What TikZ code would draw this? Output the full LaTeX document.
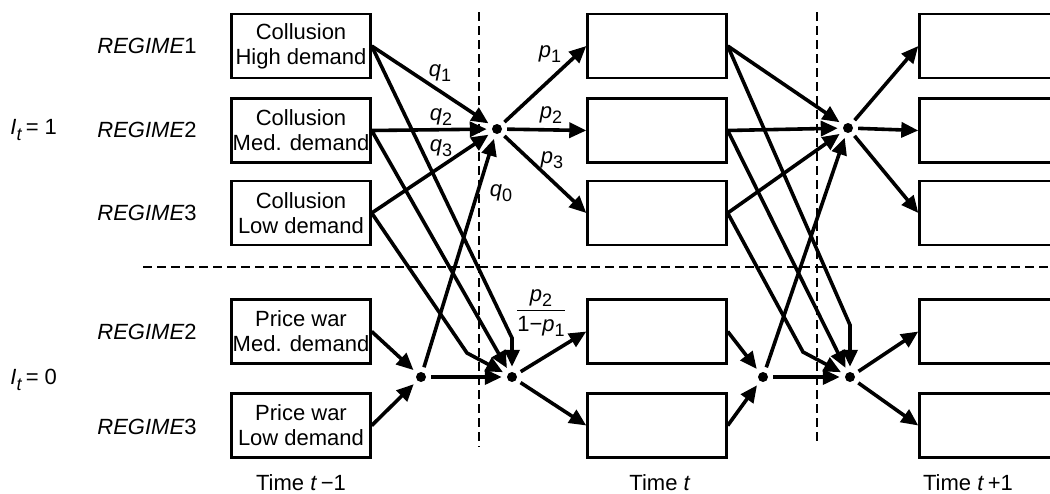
\documentclass[tikz,border=0pt]{standalone}
\usepackage{fontspec}
\setmainfont{Liberation Sans}
\usetikzlibrary{arrows.meta}
\newcommand{\mysub}[1]{\raisebox{-0.45ex}{\fontsize{9}{10}\selectfont #1}}
\begin{document}
\begin{tikzpicture}[x=0.5pt,y=-0.5pt,
  box/.style={draw,line width=1.2pt,minimum width=69.5pt,minimum height=32pt,inner sep=0pt,align=center,font=\fontsize{11}{12.5}\selectfont},
  jn/.style={circle,fill,inner sep=0pt,minimum size=5pt,outer sep=2.6pt},
  arr/.style={line width=1.8pt,-{Triangle[length=8.5pt,width=7.5pt]}},
  dsh/.style={line width=0.9pt,dash pattern=on 4.5pt off 2.5pt},
  lab/.style={font=\fontsize{11}{13}\selectfont,inner sep=0pt},
]
\useasboundingbox (0,0) rectangle (1050,493);

% dashed separators
\coordinate (v1t) at (479,12); \coordinate (v1b) at (479,447);
\coordinate (v2t) at (817,12); \coordinate (v2b) at (817,445);
\coordinate (hl) at (143,267); \coordinate (hr) at (1050,267);
\draw[dsh] (v1t) -- (v1b);
\draw[dsh] (v2t) -- (v2b);
\draw[dsh] (hl) -- (hr);

% boxes
\foreach \c/\x in {1/301,2/657,3/989}{
  \foreach \r/\y in {1/46,2/130.5,3/213,4/331.5,5/425.5}{
    \coordinate (p\c\r) at (\x,\y);
  }
}
\node[box] (b11) at (p11) {Collusion\\High demand};
\node[box] (b12) at (p12) {Collusion\\Med. demand};
\node[box] (b13) at (p13) {Collusion\\Low demand};
\node[box] (b14) at (p14) {Price war\\Med. demand};
\node[box] (b15) at (p15) {Price war\\Low demand};
\foreach \c in {2,3}{
  \foreach \r in {1,...,5}{
    \node[box] (b\c\r) at (p\c\r) {};
  }
}

% junctions
\node[jn] (A1) at (497,129) {};
\node[jn] (B1) at (512,377) {};
\node[jn] (C1) at (421,377) {};
\node[jn] (A2) at (848,128) {};
\node[jn] (B2) at (850,377) {};
\node[jn] (C2) at (763,377) {};
\coordinate (k11) at (512,338);
\coordinate (k13) at (467,353);
\coordinate (k21) at (850,325);
\coordinate (k23) at (803,352);

% arrows, step t-1 -> t
\draw[arr] (b11.east) -- (A1);
\draw[arr] (b12.east) -- (A1);
\draw[arr] (b13.east) -- (A1);
\draw[arr] (C1) -- (A1);
\draw[arr] (b11.east) -- (k11) -- (B1);
\draw[arr] (b12.east) -- (B1);
\draw[arr] (b13.east) -- (k13) -- (B1);
\draw[arr] (b14.east) -- (C1);
\draw[arr] (b15.east) -- (C1);
\draw[arr] (C1) -- (B1);
\draw[arr] (A1) -- (b21.west);
\draw[arr] (A1) -- (b22.west);
\draw[arr] (A1) -- (b23.west);
\draw[arr] (B1) -- (b24.west);
\draw[arr] (B1) -- (b25.west);

% arrows, step t -> t+1
\draw[arr] (b21.east) -- (A2);
\draw[arr] (b22.east) -- (A2);
\draw[arr] (b23.east) -- (A2);
\draw[arr] (C2) -- (A2);
\draw[arr] (b21.east) -- (k21) -- (B2);
\draw[arr] (b22.east) -- (B2);
\draw[arr] (b23.east) -- (k23) -- (B2);
\draw[arr] (b24.east) -- (C2);
\draw[arr] (b25.east) -- (C2);
\draw[arr] (C2) -- (B2);
\draw[arr] (A2) -- (b31.west);
\draw[arr] (A2) -- (b32.west);
\draw[arr] (A2) -- (b33.west);
\draw[arr] (B2) -- (b34.west);
\draw[arr] (B2) -- (b35.west);

% probability labels
\node[lab] (lq1) at (440,73) {\textit{q}\mysub{1}};
\node[lab] (lq2) at (441,117) {\textit{q}\mysub{2}};
\node[lab] (lq3) at (441,148) {\textit{q}\mysub{3}};
\node[lab] (lq0) at (501,193) {\textit{q}\mysub{0}};
\node[lab] (lp1) at (550,54) {\textit{p}\mysub{1}};
\node[lab] (lp2) at (551,115) {\textit{p}\mysub{2}};
\node[lab] (lp3) at (552,160) {\textit{p}\mysub{3}};
\node[lab] (lfr) at (541,313) {$\displaystyle\frac{\mbox{\textit{p}\mysub{2}}}{\mbox{1−\textit{p}\mysub{1}}}$};

% row labels
\node[lab,anchor=west] (r1) at (97,46) {\textit{REGIME}1};
\node[lab,anchor=west] (r2) at (97,130) {\textit{REGIME}2};
\node[lab,anchor=west] (r3) at (97,213) {\textit{REGIME}3};
\node[lab,anchor=west] (r4) at (97,332) {\textit{REGIME}2};
\node[lab,anchor=west] (r5) at (97,427) {\textit{REGIME}3};
\node[lab,anchor=west] (i1) at (10,130) {\textit{I}\mysub{\textit{t}}\,= 1};
\node[lab,anchor=west] (i0) at (10,380) {\textit{I}\mysub{\textit{t}}\,= 0};

% time labels
\node[lab] (t1) at (301,483) {Time \textit{t}\,−1};
\node[lab] (t2) at (660,483) {Time \textit{t}};
\node[lab] (t3) at (968,483) {Time \textit{t}\,+1};
\end{tikzpicture}
\end{document}
